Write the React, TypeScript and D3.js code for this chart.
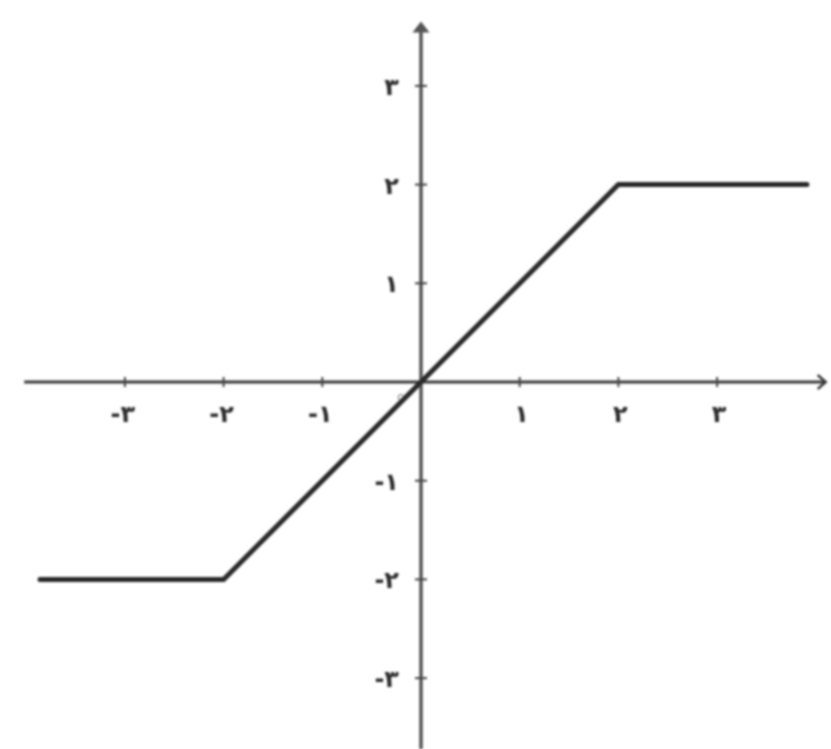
import React from "react";
import * as d3 from "d3";

const xTicks = [-3, -2, -1, 1, 2, 3];
const yTicks = [-3, -2, -1, 1, 2, 3];
const tickLabels: Record<string, string> = {
  "-3": "-۳", "-2": "-۲", "-1": "-۱", "1": "۱", "2": "۲", "3": "۳",
};
const lineXs = [-3.86, -2, 2, 3.91];
const lineYs = [-2, -2, 2, 2];

const W = 831, H = 749;

export default function App() {
  const x = d3.scaleLinear().domain([0, 1]).range([421, 519.7]);
  const y = d3.scaleLinear().domain([0, 1]).range([382, 283.3]);
  const pts: [number, number][] = lineXs.map((v, i) => [v, lineYs[i]]);
  const line = d3.line<[number, number]>().x(d => x(d[0])).y(d => y(d[1]));
  const col = "#2a2a2a";
  const font = "'DejaVu Sans', sans-serif";
  return (
    <svg width={W} height={H} style={{ position: "absolute", left: 0, top: 0, background: "#fff" }}>
      <defs>
        <filter id="blur" x="-5%" y="-5%" width="110%" height="110%">
          <feGaussianBlur stdDeviation="0.8" />
        </filter>
      </defs>
      <rect width={W} height={H} fill="#fff" />
      <g filter="url(#blur)">
        {/* x axis */}
        <line x1={x(-4.02)} x2={x(4.1)} y1={y(0)} y2={y(0)} stroke="#3a3a3a" strokeWidth={3} />
        <path d={`M${x(4.1) - 8},${y(0) - 7} L${x(4.1)},${y(0)} L${x(4.1) - 8},${y(0) + 7}`} fill="none" stroke="#3a3a3a" strokeWidth={2.5} />
        {/* y axis */}
        <line x1={x(0)} x2={x(0)} y1={y(3.61)} y2={H} stroke="#555" strokeWidth={3.5} />
        <path d={`M${x(0) - 7},${y(3.61) + 6} L${x(0)},${y(3.61) - 3} L${x(0) + 7},${y(3.61) + 6} Z`} fill="#555" stroke="#555" strokeWidth={1.5} />
        {xTicks.map(t => (
          <g key={"xt" + t}>
            <line x1={x(t)} x2={x(t)} y1={y(0) - 5} y2={y(0) + 5} stroke="#444" strokeWidth={2} />
            <text x={x(t) + (t < 0 ? -2 : 2)} y={y(0) + 40} textAnchor="middle" fontFamily={font} fontSize={24} fontWeight="bold" fill="#2e2e2e" direction="ltr">{tickLabels[String(t)]}</text>
          </g>
        ))}
        {yTicks.map(t => (
          <g key={"yt" + t}>
            <line x1={x(0) - 6} x2={x(0) + 6} y1={y(t)} y2={y(t)} stroke="#444" strokeWidth={2} />
            <text x={x(0) - 22} y={y(t) + 9} textAnchor="end" fontFamily={font} fontSize={24} fontWeight="bold" fill="#2e2e2e" direction="ltr">{tickLabels[String(t)]}</text>
          </g>
        ))}
        <text x={x(0) - 20} y={y(0) + 19} textAnchor="middle" fontFamily={font} fontSize={13} fill="#888">o</text>
        <path d={line(pts) ?? ""} fill="none" stroke={col} strokeWidth={5} strokeLinejoin="miter" strokeLinecap="round" />
      </g>
    </svg>
  );
}
